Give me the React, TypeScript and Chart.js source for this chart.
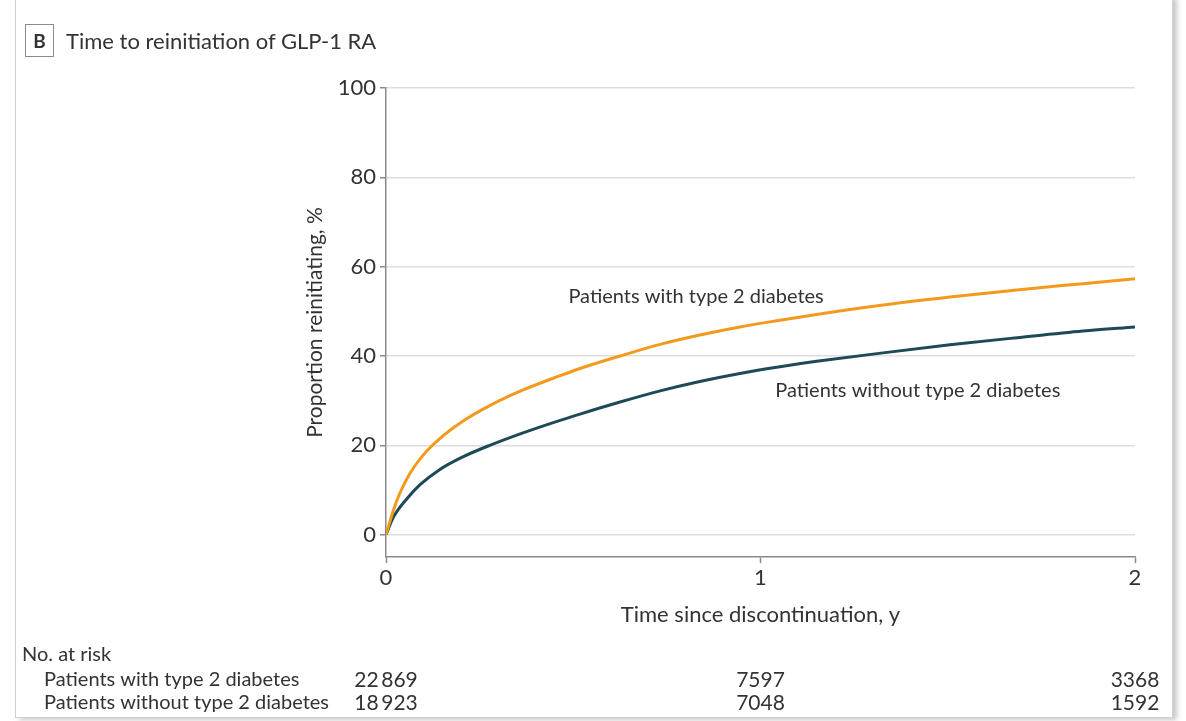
import React, { useEffect, useRef } from "react";
import { Chart, registerables } from "chart.js";

Chart.register(...registerables);

// ---- Data ----
const timeWithT2D = [0, 0.0196, 0.036, 0.063, 0.098, 0.142, 0.205, 0.277, 0.366, 0.465, 0.518, 0.625, 0.732, 0.838, 0.945, 1.052, 1.15, 1.327, 1.506, 1.685, 1.861, 2.0];
const pctWithT2D = [0, 5.4, 9.1, 13.6, 17.7, 21.4, 25.4, 28.9, 32.4, 35.6, 37.2, 40.0, 42.6, 44.7, 46.5, 48.0, 49.3, 51.4, 53.2, 54.8, 56.2, 57.3];

const timeWithoutT2D = [0, 0.0196, 0.0553, 0.091, 0.142, 0.205, 0.277, 0.366, 0.465, 0.518, 0.625, 0.732, 0.838, 0.945, 1.052, 1.15, 1.327, 1.506, 1.685, 1.861, 2.0];
const pctWithoutT2D = [0, 3.9, 8.0, 11.2, 14.5, 17.4, 20.0, 22.8, 25.6, 27.0, 29.7, 32.2, 34.3, 36.1, 37.6, 38.8, 40.7, 42.5, 44.1, 45.6, 46.5];

const yTicks = [0, 20, 40, 60, 80, 100];
const xTicks = [0, 1, 2];

const seriesNames = ["Patients with type 2 diabetes", "Patients without type 2 diabetes"];
const riskTimes = [0, 1, 2];
const riskWithT2D = ["22\u2009869", "7597", "3368"];
const riskWithoutT2D = ["18\u2009923", "7048", "1592"];

// curve label anchors in data coordinates
const labelWith = { x: 0.828, y: 53.2 };
const labelWithout = { x: 1.42, y: 32.2 };

const FONT = "Lato, 'Open Sans', sans-serif";
const TEXT = "#333333";
const ORANGE = "#F39A1E";
const TEAL = "#1D4A56";

const textPlugin = {
  id: "kmText",
  afterDraw(chart: any) {
    const ctx = chart.ctx;
    const xs = chart.scales.x;
    const ys = chart.scales.y;
    ctx.save();
    ctx.fillStyle = TEXT;
    ctx.font = `20px ${FONT}`;
    ctx.textBaseline = "middle";
    // curve labels
    ctx.textAlign = "center";
    ctx.fillText(seriesNames[0], xs.getPixelForValue(labelWith.x), ys.getPixelForValue(labelWith.y));
    ctx.fillText(seriesNames[1], xs.getPixelForValue(labelWithout.x), ys.getPixelForValue(labelWithout.y));
    // risk table
    ctx.textAlign = "left";
    ctx.fillText("No. at risk", 22, 655);
    ctx.fillText(seriesNames[0], 44, 680);
    ctx.fillText(seriesNames[1], 44, 703);
    ctx.textAlign = "center";
    ctx.font = `21px ${FONT}`;
    riskTimes.forEach((t, i) => {
      const px = xs.getPixelForValue(t);
      ctx.fillText(riskWithT2D[i], px, 680);
      ctx.fillText(riskWithoutT2D[i], px, 703);
    });
    ctx.restore();
  },
};

export default function App() {
  const ref = useRef<HTMLCanvasElement>(null);

  useEffect(() => {
    if (!ref.current) return;
    const chart = new Chart(ref.current, {
      type: "line",
      data: {
        datasets: [
          {
            label: seriesNames[0],
            data: timeWithT2D.map((t, i) => ({ x: t, y: pctWithT2D[i] })),
            borderColor: ORANGE,
            borderWidth: 3,
            pointRadius: 0,
            cubicInterpolationMode: "monotone",
            fill: false,
          },
          {
            label: seriesNames[1],
            data: timeWithoutT2D.map((t, i) => ({ x: t, y: pctWithoutT2D[i] })),
            borderColor: TEAL,
            borderWidth: 3,
            pointRadius: 0,
            cubicInterpolationMode: "monotone",
            fill: false,
          },
        ],
      },
      options: {
        animation: false,
        responsive: false,
        maintainAspectRatio: false,
        layout: { padding: { left: 0, top: 88, right: 51, bottom: 0 } },
        plugins: { legend: { display: false }, tooltip: { enabled: false } },
        scales: {
          x: {
            type: "linear",
            min: 0,
            max: 2,
            afterBuildTicks: (s: any) => {
              s.ticks = xTicks.map((v) => ({ value: v }));
            },
            afterFit: (s: any) => {
              s.height = 164;
              s.paddingLeft = 0;
              s.paddingRight = 0;
              s.paddingTop = 0;
              s.paddingBottom = 0;
            },
            border: { display: true, color: "#8a8a8a", width: 1.5 },
            grid: { drawOnChartArea: false, drawTicks: true, tickLength: 6, tickColor: "#8a8a8a", tickWidth: 1.5 },
            ticks: { color: TEXT, font: { family: FONT, size: 22 }, padding: 2, maxRotation: 0 },
            title: {
              display: true,
              text: "Time since discontinuation, y",
              color: TEXT,
              font: { family: FONT, size: 22 },
              padding: { top: 0, bottom: 93 },
            },
          },
          y: {
            type: "linear",
            min: -5,
            max: 100,
            afterBuildTicks: (s: any) => {
              s.ticks = yTicks.map((v) => ({ value: v }));
            },
            afterFit: (s: any) => {
              s.width = 386;
              s.paddingTop = 0;
              s.paddingBottom = 0;
              s.paddingLeft = 0;
              s.paddingRight = 0;
            },
            border: { display: true, color: "#8a8a8a", width: 1.5 },
            grid: { color: "#dedede", lineWidth: 1.5, drawTicks: true, tickLength: 6, tickColor: "#8a8a8a", tickWidth: 1.5 },
            ticks: { color: TEXT, font: { family: FONT, size: 22 }, padding: 4 },
            title: {
              display: true,
              text: "Proportion reinitiating, %",
              color: TEXT,
              font: { family: FONT, size: 21 },
              padding: { top: 303, bottom: 0 },
            },
          },
        },
      },
      plugins: [textPlugin],
    } as any);
    return () => chart.destroy();
  }, []);

  return (
    <div style={{ position: "absolute", left: 0, top: 0, width: 1186, height: 721, background: "#fff", overflow: "hidden" }}>
      <div
        style={{
          position: "absolute",
          left: 15,
          top: -4,
          width: 1156,
          height: 720,
          border: "1px solid #d0d0d0",
          boxShadow: "4px 2px 5px rgba(0,0,0,0.22)",
          background: "#fff",
        }}
      />
      <canvas ref={ref} width={1186} height={721} style={{ position: "absolute", left: 0, top: 0 }} />
      <div
        style={{
          position: "absolute",
          left: 25,
          top: 24,
          width: 29,
          height: 33,
          border: "1px solid #8c8c8c",
          boxSizing: "border-box",
          fontFamily: FONT,
          fontWeight: 700,
          fontSize: 19,
          color: TEXT,
          display: "flex",
          alignItems: "center",
          justifyContent: "center",
        }}
      >
        B
      </div>
      <div
        style={{
          position: "absolute",
          left: 66,
          top: 28,
          fontFamily: FONT,
          fontSize: 22,
          lineHeight: "26px",
          color: TEXT,
          whiteSpace: "nowrap",
        }}
      >
        Time to reinitiation of GLP-1 RA
      </div>
    </div>
  );
}
